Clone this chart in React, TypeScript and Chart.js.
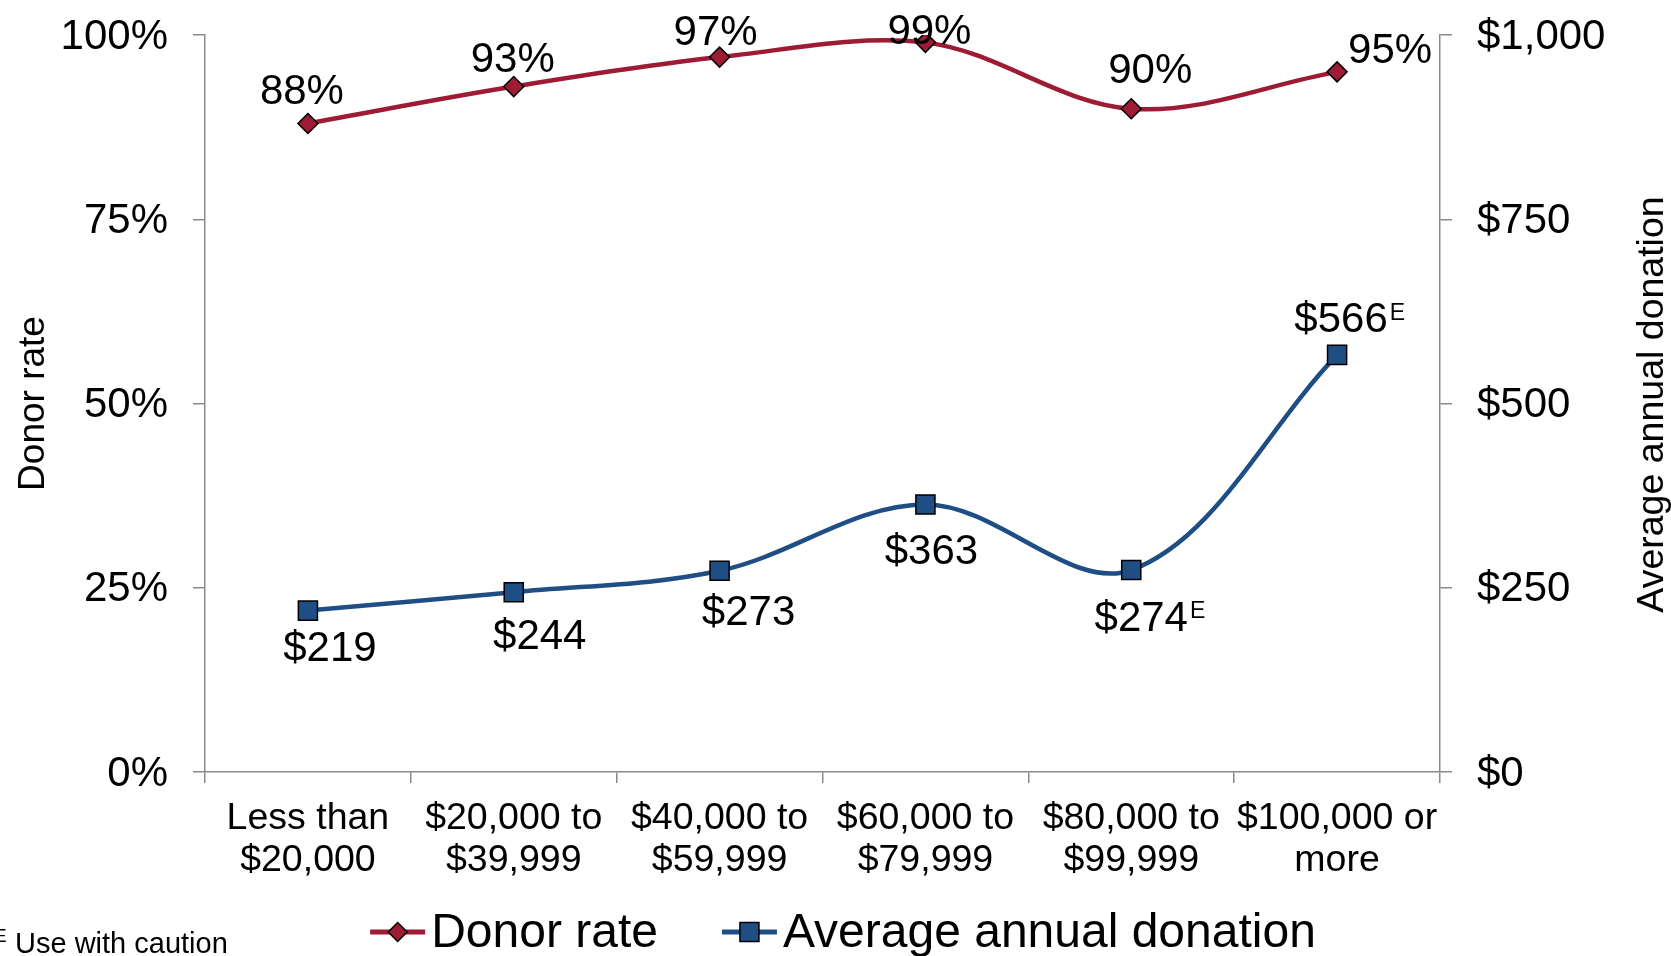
import React, { useEffect, useRef } from 'react';
import { Chart, registerables } from 'chart.js';

Chart.register(...registerables);

// ---- data ----
const categories: string[][] = [
  ['Less than', '$20,000'],
  ['$20,000 to', '$39,999'],
  ['$40,000 to', '$59,999'],
  ['$60,000 to', '$79,999'],
  ['$80,000 to', '$99,999'],
  ['$100,000 or', 'more'],
];
const donorRate = [88, 93, 97, 99, 90, 95];
const avgDonation = [219, 244, 273, 363, 274, 566];
const avgDonationCaution = [false, false, false, false, true, true];
const seriesNames = ['Donor rate', 'Average annual donation'];
const axisTitles = ['Donor rate', 'Average annual donation'];
const cautionMark = 'E';
const footnoteText = 'Use with caution';

export default function App() {
  const ref = useRef<HTMLCanvasElement>(null);

  useEffect(() => {
    document.body.style.margin = '0';
    document.body.style.overflow = 'hidden';
    const canvas = ref.current!;
    const FONT = '"Liberation Sans", Arial, sans-serif';
    const RED = '#9E1B34';
    const BLUE = '#1F4E85';
    const AXIS = '#8a8a8a';

    // label placements relative to the point (style, Excel manual positions)
    const rateOffsets = [[-6, -31], [-1, -26], [-4, -24], [4, -10], [19, -37], [53, -20]];
    const donationOffsets = [[22, 39], [26, 45], [29, 43], [6, 48], [10, 49], [4, -34]];

    const labelPlugin = {
      id: 'pointLabels',
      afterDatasetsDraw(chart: any) {
        const ctx = chart.ctx as CanvasRenderingContext2D;
        ctx.save();
        ctx.fillStyle = '#000';
        const m0 = chart.getDatasetMeta(0);
        m0.data.forEach((pt: any, i: number) => {
          const [dx, dy] = rateOffsets[i];
          ctx.font = `42px ${FONT}`;
          ctx.textAlign = 'center';
          ctx.textBaseline = 'middle';
          ctx.fillText(`${donorRate[i]}%`, pt.x + dx, pt.y + dy);
        });
        const m1 = chart.getDatasetMeta(1);
        m1.data.forEach((pt: any, i: number) => {
          const [dx, dy] = donationOffsets[i];
          const txt = '$' + avgDonation[i];
          const cx = pt.x + dx;
          const cy = pt.y + dy;
          ctx.font = `42px ${FONT}`;
          ctx.textAlign = 'center';
          ctx.textBaseline = 'middle';
          ctx.fillText(txt, cx, cy);
          if (avgDonationCaution[i]) {
            const w = ctx.measureText(txt).width;
            ctx.font = `23px ${FONT}`;
            ctx.textAlign = 'left';
            ctx.textBaseline = 'alphabetic';
            ctx.fillText(cautionMark, cx + w / 2 + 2, cy - 1);
          }
        });
        ctx.restore();
      },
    };

    const decorPlugin = {
      id: 'decor',
      afterDraw(chart: any) {
        const ctx = chart.ctx as CanvasRenderingContext2D;
        const area = chart.chartArea;
        const midY = (area.top + area.bottom) / 2;
        ctx.save();
        ctx.fillStyle = '#000';
        // axis titles (both read bottom-to-top)
        ctx.textAlign = 'center';
        ctx.textBaseline = 'alphabetic';
        ctx.font = `37px ${FONT}`;
        ctx.save();
        ctx.translate(44, midY);
        ctx.rotate(-Math.PI / 2);
        ctx.fillText(axisTitles[0], 0, 0);
        ctx.restore();
        ctx.font = `37.5px ${FONT}`;
        ctx.save();
        ctx.translate(1663, midY + 1);
        ctx.rotate(-Math.PI / 2);
        ctx.fillText(axisTitles[1], 0, 0);
        ctx.restore();

        // legend
        ctx.font = `48px ${FONT}`;
        const lineLen = 55;
        const textGap = 6;
        const itemGap = 64;
        const ds = chart.data.datasets;
        const widths = ds.map((d: any) => lineLen + textGap + ctx.measureText(d.label).width);
        const total = widths.reduce((a: number, b: number) => a + b, 0) + itemGap * (ds.length - 1);
        let x = 843 - total / 2;
        const ly = 932;
        ds.forEach((d: any, i: number) => {
          ctx.strokeStyle = d.borderColor;
          ctx.lineWidth = 5;
          ctx.beginPath();
          ctx.moveTo(x, ly);
          ctx.lineTo(x + lineLen, ly);
          ctx.stroke();
          const mx = x + lineLen / 2;
          ctx.fillStyle = d.pointBackgroundColor;
          ctx.strokeStyle = '#000';
          ctx.lineWidth = 1.5;
          ctx.beginPath();
          if (d.pointStyle === 'rectRot') {
            const r = 9.5;
            ctx.moveTo(mx, ly - r);
            ctx.lineTo(mx + r, ly);
            ctx.lineTo(mx, ly + r);
            ctx.lineTo(mx - r, ly);
            ctx.closePath();
          } else {
            const h = 9.5;
            ctx.rect(mx - h, ly - h, 2 * h, 2 * h);
          }
          ctx.fill();
          ctx.stroke();
          ctx.fillStyle = '#000';
          ctx.textAlign = 'left';
          ctx.textBaseline = 'alphabetic';
          ctx.fillText(d.label, x + lineLen + textGap, 947);
          x += widths[i] + itemGap;
        });

        // footnote
        ctx.font = `19px ${FONT}`;
        ctx.fillText(cautionMark, -6, 942);
        ctx.font = `29px ${FONT}`;
        ctx.fillText(footnoteText, 15, 953);
        ctx.restore();
      },
    };

    const tickFont = { family: FONT, size: 42 };
    const fitVertical = (w: number) => (s: any) => {
      s.width = w;
      s.paddingTop = 0;
      s.paddingBottom = 0;
    };

    const chart = new Chart(canvas, {
      type: 'line',
      data: {
        labels: categories as any,
        datasets: [
          {
            label: seriesNames[0],
            data: donorRate,
            yAxisID: 'y',
            borderColor: RED,
            backgroundColor: RED,
            borderWidth: 4.5,
            pointStyle: 'rectRot',
            pointRadius: 10,
            pointHoverRadius: 10,
            pointBackgroundColor: RED,
            pointBorderColor: '#000',
            pointBorderWidth: 1.5,
            tension: 0.35,
          },
          {
            label: seriesNames[1],
            data: avgDonation,
            yAxisID: 'y1',
            borderColor: BLUE,
            backgroundColor: BLUE,
            borderWidth: 4.5,
            pointStyle: 'rect',
            pointRadius: 13.5,
            pointHoverRadius: 13.5,
            pointBackgroundColor: BLUE,
            pointBorderColor: '#000',
            pointBorderWidth: 1.5,
            tension: 0.35,
          },
        ],
      },
      options: {
        responsive: false,
        animation: false,
        events: [],
        layout: { padding: { top: 35, left: 0, right: 0, bottom: 0 } },
        plugins: {
          legend: { display: false },
          tooltip: { enabled: false },
        },
        scales: {
          x: {
            offset: true,
            grid: {
              offset: true,
              drawOnChartArea: false,
              drawTicks: true,
              tickLength: 11,
              color: AXIS,
              lineWidth: 1.5,
            },
            border: { display: true, color: AXIS, width: 1.5 },
            ticks: {
              color: '#000',
              font: { family: FONT, size: 37.5, lineHeight: 1.12 },
              padding: 15,
              maxRotation: 0,
              minRotation: 0,
              autoSkip: false,
            },
            afterFit: (s: any) => {
              s.height = 184;
              s.paddingLeft = 0;
              s.paddingRight = 0;
            },
          },
          y: {
            position: 'left',
            min: 0,
            max: 100,
            grid: { drawOnChartArea: false, drawTicks: true, tickLength: 12, color: AXIS, lineWidth: 1.5 },
            border: { display: true, color: AXIS, width: 1.5 },
            ticks: {
              stepSize: 25,
              color: '#000',
              font: tickFont,
              padding: 25,
              labelOffset: 2,
              callback: (v: any) => `${v}%`,
            },
            afterFit: fitVertical(205),
          },
          y1: {
            position: 'right',
            min: 0,
            max: 1000,
            grid: { drawOnChartArea: false, drawTicks: true, tickLength: 12, color: AXIS, lineWidth: 1.5 },
            border: { display: true, color: AXIS, width: 1.5 },
            ticks: {
              stepSize: 250,
              color: '#000',
              font: tickFont,
              padding: 25,
              labelOffset: 2,
              callback: (v: any) => '$' + Number(v).toLocaleString('en-US'),
            },
            afterFit: fitVertical(231),
          },
        },
      } as any,
      plugins: [labelPlugin, decorPlugin],
    });

    return () => chart.destroy();
  }, []);

  return (
    <div style={{ position: 'absolute', left: 0, top: 0, width: 1671, height: 956, background: '#fff' }}>
      <canvas ref={ref} width={1671} height={956} style={{ display: 'block' }} />
    </div>
  );
}
